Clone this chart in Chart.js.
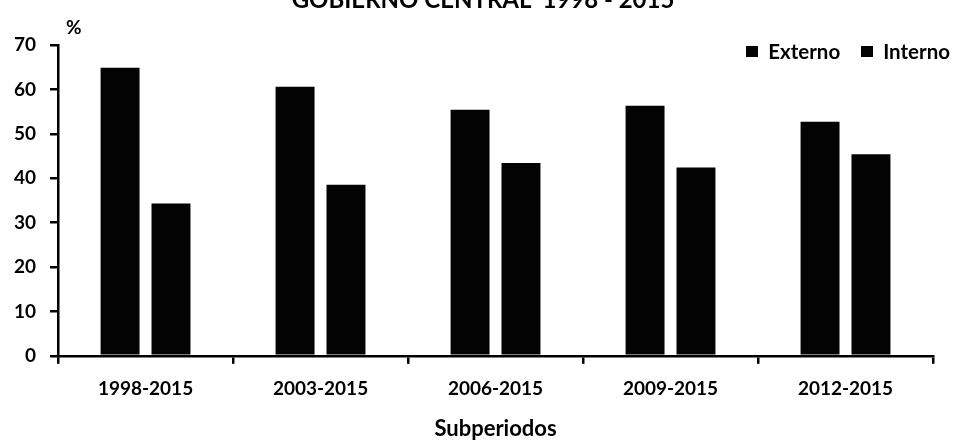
<!DOCTYPE html>
<html>
<head>
<meta charset="utf-8">
<script src="https://cdn.jsdelivr.net/npm/chart.js@4"></script>
<style>
  html, body { margin: 0; padding: 0; background: #fff; overflow: hidden; }
  #wrap { position: relative; width: 955px; height: 444px; overflow: hidden; }
  #title { position: absolute; left: 0; width: 966px; top: -16px; text-align: center;
           font: bold 24px Lato, "Open Sans", sans-serif; color: #000; white-space: pre; }
  #unit { position: absolute; left: 66px; top: 15px; font: bold 19px Lato, sans-serif; color: #000; }
  #legend { position: absolute; right: 5px; top: 39px; display: flex; align-items: center;
            font: bold 20.5px Lato, sans-serif; color: #000; }
  #legend .item { display: flex; align-items: center; margin-left: 21px; }
  #legend .box { width: 12px; height: 11px; margin-right: 10px; }
  canvas { position: absolute; left: 0; top: 0; }
</style>
</head>
<body>
<div id="wrap">
  <canvas id="chart" width="955" height="444"></canvas>
  <div id="title">GOBIERNO CENTRAL  1998 - 2015</div>
  <div id="unit">%</div>
  <div id="legend"></div>
</div>
<script>
// Subperiods and the share (%) of each financing source
const periods = ['1998-2015', '2003-2015', '2006-2015', '2009-2015', '2012-2015'];
const externo = [64.9, 60.6, 55.4, 56.3, 52.7];
const interno = [34.3, 38.5, 43.4, 42.4, 45.4];
const yTicks = [0, 10, 20, 30, 40, 50, 60, 70];

const ink = '#000000';
const fontFamily = 'Lato, "Open Sans", sans-serif';

const chart = new Chart(document.getElementById('chart'), {
  type: 'bar',
  data: {
    labels: periods,
    datasets: [
      { label: 'Externo', data: externo, backgroundColor: '#030303', borderWidth: 0,
        categoryPercentage: 0.582, barPercentage: 0.765 },
      { label: 'Interno', data: interno, backgroundColor: '#030303', borderWidth: 0,
        categoryPercentage: 0.582, barPercentage: 0.765 }
    ]
  },
  options: {
    responsive: false,
    devicePixelRatio: 1,
    animation: false,
    layout: { padding: { top: 45, right: 22, left: 0, bottom: 2 } },
    plugins: {
      title: { display: false },
      tooltip: { enabled: false },
      legend: { display: false }
    },
    scales: {
      x: {
        grid: { display: true, drawOnChartArea: false, offset: true, color: ink, lineWidth: 2.5, tickLength: 8 },
        border: { display: true, color: ink, width: 2.5 },
        ticks: { color: ink, padding: 14, font: { family: fontFamily, size: 19, weight: 'bold' } },
        title: { display: true, text: 'Subperiodos', color: ink, padding: { top: 1, bottom: 0 },
                 font: { family: fontFamily, size: 22, weight: 'bold' } }
      },
      y: {
        min: 0,
        max: 70,
        afterBuildTicks: (axis) => { axis.ticks = yTicks.map(v => ({ value: v })); },
        grid: { display: true, drawOnChartArea: false, color: ink, lineWidth: 2.5, tickLength: 8 },
        border: { display: true, color: ink, width: 2.5 },
        ticks: { color: ink, padding: 14, font: { family: fontFamily, size: 19, weight: 'bold' } }
      }
    }
  }
});

// Legend entries taken from the chart's own datasets
const legendEl = document.getElementById('legend');
chart.data.datasets.forEach(ds => {
  const item = document.createElement('div');
  item.className = 'item';
  const box = document.createElement('span');
  box.className = 'box';
  box.style.background = ds.backgroundColor;
  const text = document.createElement('span');
  text.textContent = ds.label;
  item.appendChild(box);
  item.appendChild(text);
  legendEl.appendChild(item);
});
</script>
</body>
</html>
